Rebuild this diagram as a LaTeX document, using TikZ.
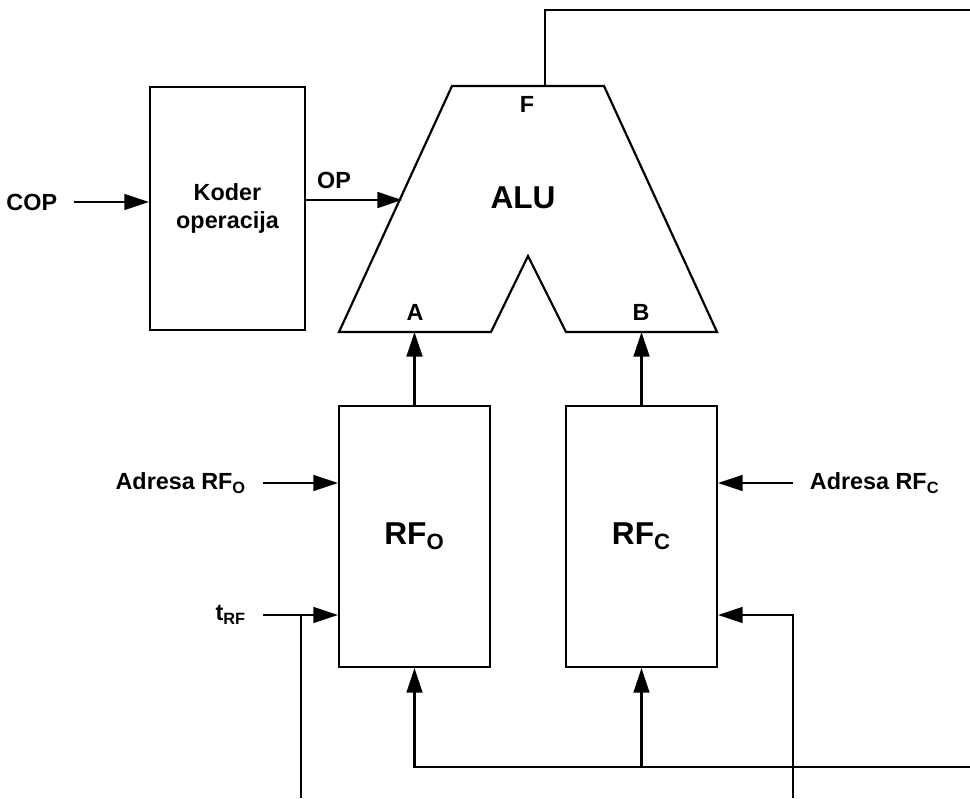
\documentclass[tikz,border=0pt]{standalone}
\usepackage{fontspec}
\setmainfont{Liberation Sans}
\usetikzlibrary{arrows.meta}

\begin{document}
\begin{tikzpicture}[x=0.02cm, y=-0.02cm, line width=1.25pt,
    font=\bfseries\fontsize{13.3}{16}\selectfont,
    blk/.style={draw, inner sep=0pt, minimum width=3.02cm, minimum height=5.22cm},
    lbl/.style={inner xsep=9pt, inner ysep=2pt},
    big/.style={font=\bfseries\fontsize{18}{21}\selectfont},
    sig/.style={-{Triangle[length=14pt,width=9pt]}}]
  \useasboundingbox (0,0) rectangle (970,798);

  % blocks
  \node[blk, minimum width=3.1cm, minimum height=4.86cm, align=center]
    (koder) at (227.5,208.5) {Koder\\operacija};
  \node[blk, big] (rfo) at (414.5,536.5) {RF\textsubscript{O}};
  \node[blk, big] (rfc) at (641.5,536.5) {RF\textsubscript{C}};

  % ALU outline
  \draw (452,86) -- (604,86) -- (717,332) -- (566,332) -- (528,256)
    -- (491,332) -- (339,332) -- cycle;
  \coordinate (alu-a) at (414.5,332);
  \coordinate (alu-b) at (641.5,332);
  \coordinate (alu-f) at (545,86);
  \coordinate (alu-op) at (402,200);
  \node[big] (alu) at (523,198) {ALU};
  \node (f) at (527,104) {F};
  \node (a) at (415,312) {A};
  \node (b) at (641,312) {B};

  % inputs on the left
  \node[lbl, anchor=east] (cop) at (74,202) {COP};
  \draw[sig] (cop.east) -- (cop.east -| koder.west);
  \node (op) at (334,180) {OP};
  \draw[sig] (koder.east |- alu-op) -- (alu-op);

  \node[lbl, anchor=east] (adro) at (263,483) {Adresa RF\textsubscript{O}};
  \draw[sig] (adro.east) -- (adro.east -| rfo.west);
  \node[lbl, anchor=east] (trf) at (263,615) {t\textsubscript{RF}};
  \draw[sig] (trf.east) -- (trf.east -| rfo.west);
  \coordinate (trf-l) at (301,798);
  \draw (trf-l) -- (trf-l |- trf.east);

  % inputs on the right
  \node[lbl, anchor=west] (adrc) at (793,483) {Adresa RF\textsubscript{C}};
  \draw[sig] (adrc.west) -- (adrc.west -| rfc.east);
  \coordinate (trf-r) at (793,798);
  \draw[sig] (trf-r) |- (rfc.east |- trf.east);

  % operands into the ALU
  \draw[sig] (rfo.north) -- (alu-a);
  \draw[sig] (rfc.north) -- (alu-b);

  % result F back into the register files
  \coordinate (out) at (970,10);
  \draw (alu-f) |- (out);
  \coordinate (fb) at (970,767);
  \draw[sig] (fb) -| (rfo.south);
  \draw[sig] (rfc.south |- fb) -- (rfc.south);
\end{tikzpicture}
\end{document}
